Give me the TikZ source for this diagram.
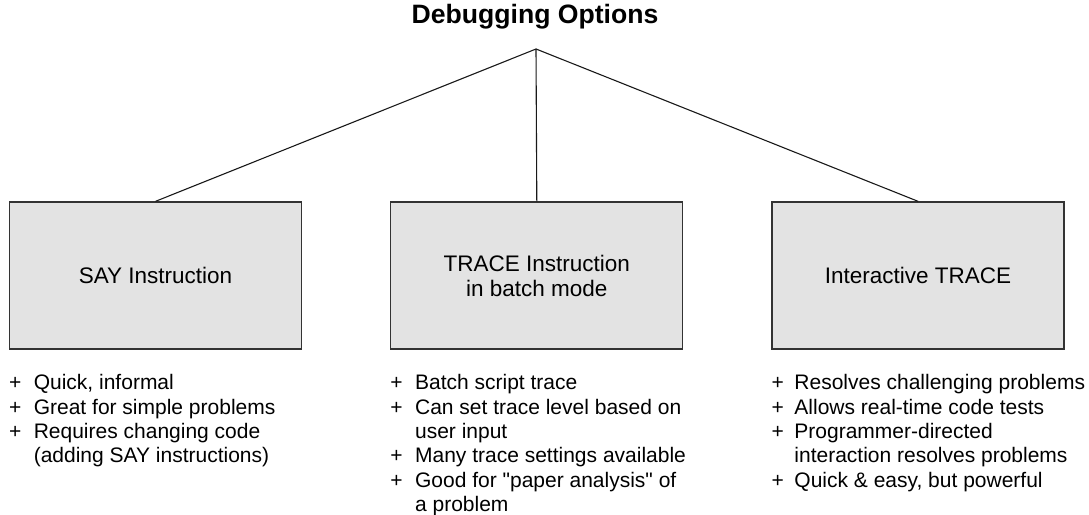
\documentclass[tikz,border=0pt]{standalone}
\usepackage{fontspec}
\setmainfont{Liberation Sans}
\usepackage{tikz}
\usetikzlibrary{positioning}

\newcommand{\boxfont}{\fontsize{22.5}{25}\selectfont}
\newcommand{\listfont}{\fontsize{21}{24.3}\selectfont}

\begin{document}
\begin{tikzpicture}[
  x=1pt, y=1pt,
  node distance=88pt,
  option/.style={rectangle, draw=black!80, line width=1.3pt, fill=black!11,
                 minimum width=292pt, minimum height=147pt, align=center,
                 font=\boxfont},
  pros/.style={inner sep=0pt, align=left, font=\listfont},
  branch/.style={draw=black!90, line width=1.1pt}
]
\useasboundingbox (0,0) rectangle (1089,514);

% --- Title ---
\node[anchor=base, font=\fontsize{26.6}{30}\selectfont\bfseries] (title) at (535,490) {Debugging Options};
\coordinate (root) at (536,465);

% --- Options ---
\node[option]                     (SAY)   at (155.5,238.5) {SAY Instruction};
\node[option, right=of SAY]       (BATCH) {TRACE Instruction\\in batch mode};
\node[option, right=of BATCH]     (INTER) {Interactive TRACE};

% --- Branches ---
\path[branch]
  (root) edge (SAY.north)
  (root) edge (BATCH.north)
  (root) edge (INTER.north);

% --- Lists ---
\node[pros, below=23pt of SAY.south west, anchor=north west] (SAYpros) {%
  \begin{tabular}{@{}l@{\hspace{12.5pt}}l@{}}
  + & Quick, informal\\
  + & Great for simple problems\\
  + & Requires changing code\\
    & (adding SAY instructions)
  \end{tabular}};
\node[pros, below=23pt of BATCH.south west, anchor=north west] (BATCHpros) {%
  \begin{tabular}{@{}l@{\hspace{12.5pt}}l@{}}
  + & Batch script trace\\
  + & Can set trace level based on\\
    & user input\\
  + & Many trace settings available\\
  + & Good for \textquotedbl paper analysis\textquotedbl{} of\\
    & a problem
  \end{tabular}};
\node[pros, below=23pt of INTER.south west, anchor=north west] (INTERpros) {%
  \begin{tabular}{@{}l@{\hspace{10.5pt}}l@{}}
  + & Resolves challenging problems\\
  + & Allows real-time code tests\\
  + & Programmer-directed\\
    & interaction resolves problems\\
  + & Quick \& easy, but powerful
  \end{tabular}};

\end{tikzpicture}
\end{document}
